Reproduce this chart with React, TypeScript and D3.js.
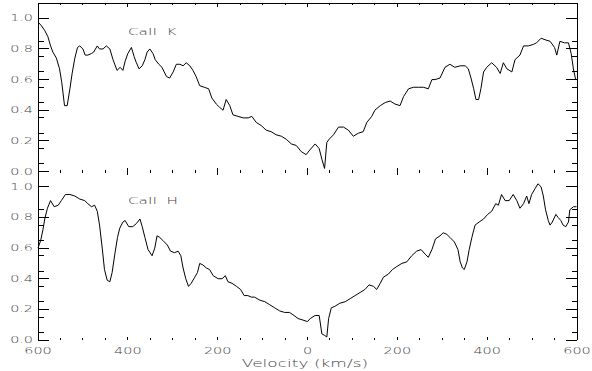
import React from "react";
import * as d3 from "d3";

// Ca II K profile (top panel)
const kVel = [
  -598, -592, -585, -578, -572, -567, -559, -552, -547, -541, -535, -529, -524, -518, -512, -507,
  -500, -495, -489, -481, -476, -468, -463, -455, -448, -440, -433, -424, -417, -411, -406, -400,
  -392, -386, -381, -375, -368, -362, -357, -351, -344, -339, -331, -324, -314, -307, -299, -292,
  -284, -277, -270, -262, -255, -248, -240, -230, -220, -213, -203, -196, -188, -181, -173, -166,
  -155, -143, -132, -124, -114, -103, -92, -81, -70, -58, -47, -36, -25, -14, -3, 5, 17, 26, 32,
  38, 43, 48, 58, 69, 80, 91, 102, 113, 124, 132, 143, 150, 162, 173, 184, 195, 206, 214, 225,
  236, 247, 258, 269, 277, 284, 295, 306, 317, 328, 340, 351, 358, 364, 370, 375, 381, 386, 392,
  399, 410, 421, 429, 436, 444, 455, 462, 473, 481, 492, 503, 510, 520, 529, 540, 550, 555, 562,
  572, 581, 587, 592, 597,
];
const kFlux = [
  0.97, 0.95, 0.92, 0.88, 0.82, 0.78, 0.74, 0.67, 0.58, 0.43, 0.43, 0.54, 0.64, 0.74, 0.81, 0.82,
  0.8, 0.76, 0.76, 0.77, 0.78, 0.82, 0.8, 0.8, 0.82, 0.8, 0.73, 0.66, 0.68, 0.66, 0.72, 0.77,
  0.81, 0.75, 0.71, 0.67, 0.69, 0.73, 0.78, 0.8, 0.77, 0.73, 0.7, 0.68, 0.62, 0.61, 0.65, 0.7,
  0.7, 0.69, 0.71, 0.69, 0.66, 0.62, 0.56, 0.55, 0.54, 0.48, 0.44, 0.42, 0.4, 0.47, 0.43, 0.37,
  0.36, 0.35, 0.35, 0.36, 0.32, 0.3, 0.27, 0.26, 0.24, 0.23, 0.21, 0.18, 0.17, 0.13, 0.11, 0.14,
  0.18, 0.15, 0.08, 0.02, 0.19, 0.21, 0.24, 0.29, 0.29, 0.27, 0.23, 0.25, 0.26, 0.32, 0.36, 0.4,
  0.43, 0.45, 0.46, 0.44, 0.43, 0.49, 0.54, 0.55, 0.55, 0.55, 0.54, 0.6, 0.6, 0.61, 0.68, 0.7,
  0.68, 0.69, 0.69, 0.67, 0.61, 0.54, 0.47, 0.47, 0.54, 0.65, 0.68, 0.71, 0.68, 0.64, 0.71, 0.67,
  0.65, 0.73, 0.76, 0.82, 0.82, 0.83, 0.84, 0.87, 0.86, 0.85, 0.81, 0.76, 0.85, 0.84, 0.84, 0.77,
  0.67, 0.6,
];

// Ca II H profile (bottom panel)
const hVel = [
  -600, -594, -589, -585, -579, -572, -564, -555, -548, -539, -529, -518, -507, -496, -489, -481,
  -474, -468, -463, -457, -452, -446, -440, -435, -429, -423, -418, -411, -406, -398, -389, -381,
  -373, -368, -362, -355, -346, -340, -335, -329, -322, -312, -305, -296, -288, -282, -277, -271,
  -265, -259, -251, -245, -240, -233, -225, -218, -210, -199, -190, -183, -177, -168, -158, -149,
  -141, -133, -125, -118, -106, -95, -84, -73, -62, -51, -40, -30, -21, -10, 0, 6, 17, 26, 32, 38,
  43, 47, 53, 61, 72, 84, 95, 106, 117, 128, 137, 147, 154, 162, 169, 180, 189, 199, 210, 221,
  232, 243, 253, 262, 269, 277, 285, 295, 302, 310, 317, 327, 335, 340, 345, 349, 355, 360, 366,
  373, 382, 392, 401, 410, 419, 425, 432, 440, 449, 458, 466, 473, 481, 488, 493, 499, 507, 513,
  520, 525, 530, 536, 540, 545, 553, 558, 564, 569, 575, 581, 584, 592, 599,
];
const hFlux = [
  0.6, 0.65, 0.72, 0.79, 0.86, 0.91, 0.87, 0.88, 0.91, 0.95, 0.95, 0.94, 0.92, 0.91, 0.89, 0.87,
  0.88, 0.84, 0.75, 0.6, 0.46, 0.39, 0.38, 0.44, 0.56, 0.67, 0.73, 0.77, 0.78, 0.74, 0.74, 0.76,
  0.79, 0.74, 0.67, 0.59, 0.55, 0.6, 0.68, 0.67, 0.65, 0.62, 0.58, 0.57, 0.58, 0.55, 0.47, 0.4,
  0.35, 0.37, 0.41, 0.44, 0.5, 0.49, 0.47, 0.46, 0.42, 0.4, 0.4, 0.42, 0.38, 0.37, 0.35, 0.33,
  0.29, 0.29, 0.28, 0.28, 0.26, 0.25, 0.23, 0.21, 0.19, 0.18, 0.18, 0.16, 0.14, 0.13, 0.12, 0.14,
  0.16, 0.16, 0.04, 0.03, 0.02, 0.14, 0.21, 0.22, 0.24, 0.25, 0.27, 0.29, 0.31, 0.33, 0.36, 0.35,
  0.33, 0.37, 0.41, 0.43, 0.46, 0.48, 0.5, 0.51, 0.55, 0.58, 0.59, 0.56, 0.54, 0.59, 0.66, 0.68,
  0.7, 0.69, 0.67, 0.64, 0.59, 0.51, 0.47, 0.46, 0.51, 0.59, 0.67, 0.75, 0.77, 0.79, 0.82, 0.84,
  0.89, 0.88, 0.95, 0.91, 0.91, 0.95, 0.91, 0.86, 0.89, 0.94, 0.89, 0.95, 0.99, 1.02, 1.0, 0.94,
  0.85, 0.78, 0.75, 0.77, 0.82, 0.8, 0.78, 0.75, 0.74, 0.77, 0.85, 0.87, 0.87,
];

const xMajor = [-600, -400, -200, 0, 200, 400, 600];
const yMajor = [0, 0.2, 0.4, 0.6, 0.8, 1.0];
const yMinor = [0.05, 0.15, 0.25, 0.35, 0.45, 0.55, 0.65, 0.75, 0.85];
const panelNames = ["CaII\u00a0\u00a0K", "CaII\u00a0\u00a0H"];

const W = 592;
const H = 371;
const left = 38;
const right = 577;
const top = 3;
const mid = 171.5;
const bottom = 340;
const ink = "#444";
const font = "DejaVu Sans";

function Txt({ x, y, anchor = "start", size = 8, sx = 1.8, children }: any) {
  return (
    <text
      transform={`translate(${x},${y}) scale(${sx},1)`}
      textAnchor={anchor}
      fontSize={size}
      fontFamily={font}
      fontWeight={200}
      fill={ink}
    >
      {children}
    </text>
  );
}

function Panel({ y0, y1, vel, flux, name }: any) {
  const x = d3.scaleLinear().domain([-600, 600]).range([left, right]);
  const y = d3.scaleLinear().domain([0, 1.1]).range([y0, y1]);
  const line = d3
    .line<number>()
    .x((d, i) => x(vel[i]))
    .y((d) => y(d));
  const xMinor = d3.range(-550, 600, 50).filter((v) => v % 200 !== 0);
  return (
    <g>
      {/* y ticks on both sides */}
      {yMajor.map((t) => (
        <g key={"M" + t} stroke="#000" shapeRendering="crispEdges">
          <line x1={left} x2={left + 11} y1={y(t)} y2={y(t)} />
          <line x1={right - 11} x2={right} y1={y(t)} y2={y(t)} />
        </g>
      ))}
      {yMinor.map((t) => (
        <g key={"m" + t} stroke="#000" shapeRendering="crispEdges">
          <line x1={left} x2={left + 5.5} y1={y(t)} y2={y(t)} />
          <line x1={right - 5.5} x2={right} y1={y(t)} y2={y(t)} />
        </g>
      ))}
      {yMajor.map((t) => (
        <Txt key={"l" + t} x={33} y={y(t) + 3} anchor="end">
          {d3.format(".1f")(t)}
        </Txt>
      ))}
      {/* x ticks on top and bottom edge of the panel */}
      {xMajor.map((v) => (
        <g key={"xm" + v} stroke="#000" shapeRendering="crispEdges">
          <line x1={x(v)} x2={x(v)} y1={y0} y2={y0 - 3.5} />
          <line x1={x(v)} x2={x(v)} y1={y1} y2={y1 + 3.5} />
        </g>
      ))}
      {xMinor.map((v) => (
        <g key={"xn" + v} stroke="#000" shapeRendering="crispEdges">
          <line x1={x(v)} x2={x(v)} y1={y0} y2={y0 - 1.8} />
          <line x1={x(v)} x2={x(v)} y1={y1} y2={y1 + 1.8} />
        </g>
      ))}
      <path d={line(flux) || ""} fill="none" stroke="#000" strokeWidth={1} />
      <Txt x={128} y={y1 + 32} size={9.5} sx={1.6}>
        {name}
      </Txt>
    </g>
  );
}

export default function App() {
  const x = d3.scaleLinear().domain([-600, 600]).range([left, right]);
  return (
    <svg
      width={W}
      height={H}
      style={{ position: "absolute", left: 0, top: 0, background: "#fff" }}
    >
      <rect width={W} height={H} fill="#fff" />
      <g stroke="#000" shapeRendering="crispEdges">
        <line x1={left} x2={left} y1={top} y2={bottom} />
        <line x1={right} x2={right} y1={top} y2={bottom} />
        <line x1={left} x2={right} y1={top} y2={top} />
      </g>
      <Panel y0={mid} y1={top} vel={kVel} flux={kFlux} name={panelNames[0]} />
      <Panel y0={bottom} y1={mid} vel={hVel} flux={hFlux} name={panelNames[1]} />
      {xMajor.map((v) => (
        <Txt key={v} x={x(v)} y={354} anchor="middle">
          {Math.abs(v)}
        </Txt>
      ))}
      <Txt x={305} y={367} anchor="middle" size={10} sx={1.7}>
        Velocity (km/s)
      </Txt>
    </svg>
  );
}
